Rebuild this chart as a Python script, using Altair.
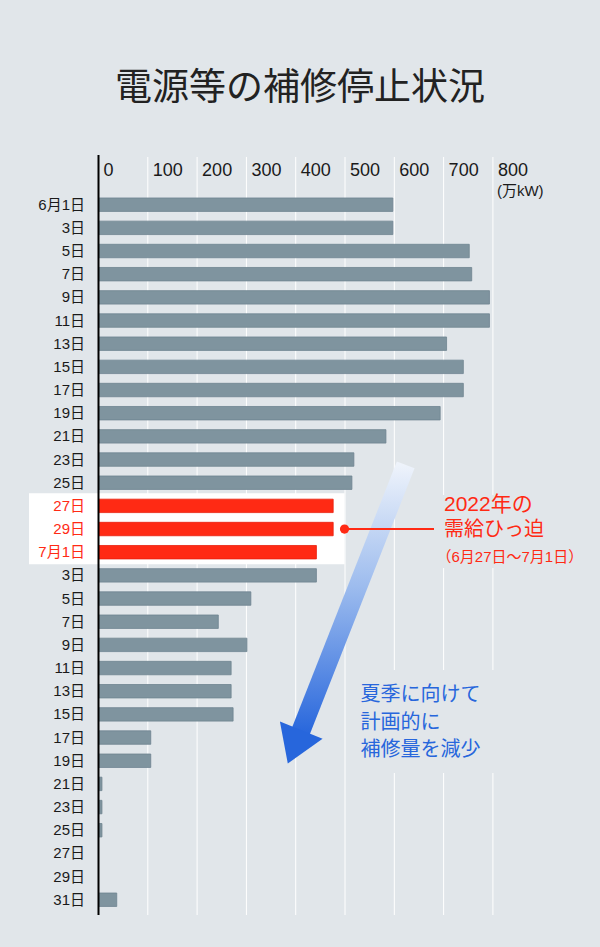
import altair as alt
import pandas as pd

# ---------------- data ----------------
days = ["6月1日", "3日", "5日", "7日", "9日", "11日", "13日", "15日", "17日", "19日",
        "21日", "23日", "25日", "27日", "29日",
        "7月1日", "3日", "5日", "7日", "9日", "11日", "13日", "15日", "17日", "19日",
        "21日", "23日", "25日", "27日", "29日", "31日"]
outage = [597, 597, 752, 757, 793, 793, 706, 740, 740, 693,
          583, 518, 514, 476, 476,
          442, 442, 309, 243, 301, 269, 269, 273, 106, 106,
          7, 7, 7, 0, 0, 37]
tight = [False] * 13 + [True] * 3 + [False] * 15
ticks = [0, 100, 200, 300, 400, 500, 600, 700, 800]

title_text = "電源等の補修停止状況"
unit_text = "(万kW)"
red_lines = ["2022年の", "需給ひっ迫", "（6月27日〜7月1日）"]
red_sizes = [21, 20, 15]
blue_lines = ["夏季に向けて", "計画的に", "補修量を減少"]

# ---------------- style ----------------
BG = "#e1e6ea"
GRAY = "#7f949f"
GRAY_EDGE = "#6f8491"
RED = "#ff2a14"
BLUE = "#2766dc"
INK = "#1a1a1a"
FONT = "Liberation Sans, Noto Sans CJK JP"
CJK = "Noto Sans CJK JP"

# scales: x in 万kW, y in row units (row 0 = 6月1日)
XS = alt.Scale(domain=[-199.8, 1017.2], nice=False, zero=False)
YS = alt.Scale(domain=[-8.835, 32.04], nice=False, zero=False, reverse=True)

def X(f, **k):
    return alt.X(f, type="quantitative", scale=XS, axis=None, **k)

def Y(f, **k):
    return alt.Y(f, type="quantitative", scale=YS, axis=None, **k)

rows = pd.DataFrame({"row": list(range(len(days))), "day": days,
                     "value": outage, "tight": tight})
tick_df = pd.DataFrame({"t": ticks})

base = alt.Chart(rows)

# gridlines
grid = alt.Chart(tick_df).transform_filter("datum.t > 0").transform_calculate(
    y0="-2.06", y1="30.66"
).mark_rule(color="white", strokeWidth=1).encode(x=X("t:Q"), y=Y("y0:Q"), y2="y1:Q")

# background boxes behind annotation text (hide gridlines)
boxes = pd.DataFrame({
    "x0": [688.6, 510.0], "x1": [1017.0, 834.7],
    "y0": [12.53, 20.08], "y1": [15.68, 24.53],
})
text_bg = alt.Chart(boxes).mark_rect(color=BG).encode(
    x=X("x0:Q"), x2="x1:Q", y=Y("y0:Q"), y2="y1:Q")

# white highlight behind the tight-supply period
hl = pd.DataFrame({"x0": [-141.0], "x1": [499.0], "y0": [12.46], "y1": [15.52]})
highlight = alt.Chart(hl).mark_rect(color="white").encode(
    x=X("x0:Q"), x2="x1:Q", y=Y("y0:Q"), y2="y1:Q")

# bars
bars = base.transform_calculate(
    b0="datum.row - 0.29", b1="datum.row + 0.29", zero="0"
).mark_rect(strokeWidth=0.8).encode(
    x=X("zero:Q"), x2="value:Q", y=Y("b0:Q"), y2="b1:Q",
    fill=alt.condition("datum.tight", alt.value(RED), alt.value(GRAY)),
    stroke=alt.condition("datum.tight", alt.value("#e8200e"), alt.value(GRAY_EDGE)),
)

# axis line at zero
axis_line = alt.Chart(pd.DataFrame({"x": [0], "y0": [-2.145], "y1": [30.66]})).mark_rule(
    color="black", strokeWidth=2
).encode(x=X("x:Q"), y=Y("y0:Q"), y2="y1:Q")

# row labels
labels = base.transform_calculate(lx="-27.4").mark_text(
    align="right", baseline="middle", fontSize=15, font=FONT
).encode(
    x=X("lx:Q"), y=Y("row:Q"), text="day:N",
    color=alt.condition("datum.tight", alt.value(RED), alt.value(INK)),
)

# tick labels
tick_labels = alt.Chart(tick_df).transform_calculate(ty="-1.455").mark_text(
    align="left", baseline="middle", dx=5, fontSize=18, font=FONT, color=INK
).encode(x=X("t:Q"), y=Y("ty:Q"), text="t:N")

unit = alt.Chart(pd.DataFrame({"x": [800], "y": [-0.60], "s": [unit_text]})).mark_text(
    align="left", baseline="middle", dx=4, fontSize=15, font=FONT, color=INK
).encode(x=X("x:Q"), y=Y("y:Q"), text="s:N")

# title
title = alt.Chart(pd.DataFrame({"x": [408.7], "y": [-4.99], "s": [title_text]})).mark_text(
    align="center", baseline="middle", fontSize=37, font=CJK, color="#222222"
).encode(x=X("x:Q"), y=Y("y:Q"), text="s:N")

# arrow (gradient shaft + head)
grad = {
    "gradient": "linear", "x1": 0, "y1": 0, "x2": 0, "y2": 1,
    "stops": [
        {"offset": 0, "color": "#eef3fb"},
        {"offset": 0.45, "color": "#9dbcee"},
        {"offset": 1, "color": BLUE},
    ],
}
shaft = alt.Chart(pd.DataFrame({"x": [623.1, 407.3], "y": [11.23, 22.89]})).mark_line(
    stroke=grad, strokeWidth=19, strokeCap="butt"
).encode(x=X("x:Q"), y=Y("y:Q"))
head = alt.Chart(pd.DataFrame({"x": [397.6], "y": [23.40]})).mark_point(
    shape="M-1,-0.78L1,-0.78L0,0.78Z", size=2116, angle=22, filled=True,
    fill=BLUE, opacity=1, strokeWidth=0
).encode(x=X("x:Q"), y=Y("y:Q"))

# red call-out
red_rule = alt.Chart(pd.DataFrame({"x0": [499.0], "x1": [680.5], "y": [14.0]})).mark_rule(
    color=RED, strokeWidth=2
).encode(x=X("x0:Q"), x2="x1:Q", y=Y("y:Q"))
red_dot = alt.Chart(pd.DataFrame({"x": [499.0], "y": [14.0]})).mark_point(
    filled=True, size=85, color=RED, opacity=1
).encode(x=X("x:Q"), y=Y("y:Q"))
red_df = pd.DataFrame({"x": [700.7, 700.7, 685.5], "y": [12.97, 14.04, 15.19],
                       "s": red_lines, "fs": red_sizes})
red_text = alt.Chart(red_df).mark_text(
    align="left", baseline="middle", font=FONT, color=RED
).encode(x=X("x:Q"), y=Y("y:Q"), text="s:N",
         size=alt.Size("fs:Q", scale=None, legend=None))

blue_df = pd.DataFrame({"x": [531.4] * 3, "y": [21.17, 22.37, 23.53], "s": blue_lines})
blue_text = alt.Chart(blue_df).mark_text(
    align="left", baseline="middle", font=CJK, fontSize=20, color=BLUE
).encode(x=X("x:Q"), y=Y("y:Q"), text="s:N")

chart = alt.layer(
    grid, text_bg, highlight, bars, axis_line, labels, tick_labels, unit, title,
    shaft, head, red_rule, red_dot, red_text, blue_text
).properties(
    width=600, height=947,
    autosize=alt.AutoSizeParams(type="none"),
    padding=0,
    background=BG,
).configure_view(stroke=None)

chart.save("out.html", embed_options={"renderer": "svg", "actions": False})
